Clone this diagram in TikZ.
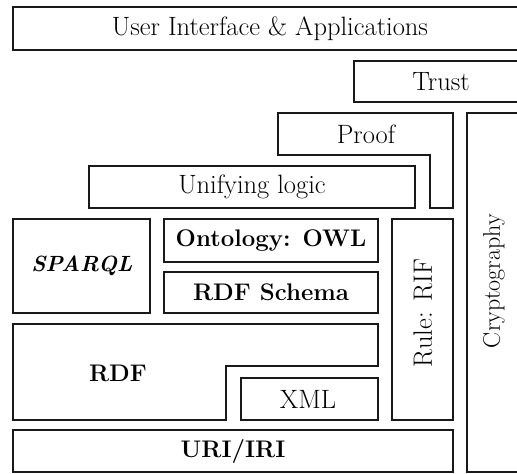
\documentclass[tikz,border=0pt]{standalone}
\usepackage{fontspec}
\setmainfont{Latin Modern Roman}
\begin{document}
\begin{tikzpicture}[x=1pt,y=-1pt,
  thin box/.style={draw=black!90, line width=1.2pt},
  thick box/.style={draw=black!90, line width=2.8pt},
  lbl/.style={font=\fontsize{26.5}{30}\selectfont, inner sep=0pt},
  blbl/.style={font=\fontsize{24}{28}\selectfont\bfseries, inner sep=0pt}]
\useasboundingbox (0,0) rectangle (517,474);
% User interface
\draw[thin box] (517,7) -- (13,7) -- (13,50) -- (517,50);
\node[lbl] (ui) at (270,28.5) {User Interface \& Applications};
% Trust
\draw[thin box] (517,61) -- (354,61) -- (354,102) -- (517,102);
\node[lbl] (trust) at (441,81.5) {Trust};
% Proof
\draw[thin box] (278,113) -- (453,113) -- (453,208) -- (430,208) -- (430,155) -- (278,155) -- cycle;
\node[lbl] (proof) at (366,134) {Proof};
% Unifying logic
\draw[thin box] (89,166) rectangle (415,208);
\node[lbl] (logic) at (252,187) {Unifying logic};
% Cryptography
\draw[thin box] (517,113) -- (467,113) -- (467,472) -- (517,472);
\node[lbl, font=\fontsize{24}{28}\selectfont, rotate=90] (crypto) at (494,281) {Cryptography};
% Rule: RIF
\draw[thin box] (392,219) rectangle (453,420);
\node[lbl, rotate=90] (rif) at (423,313) {Rule: RIF};
% SPARQL
\draw[thick box] (13,219) rectangle (150,313);
\node[blbl, font=\fontsize{22}{26}\selectfont\bfseries\itshape] (sparql) at (82,266) {SPARQL};
% Ontology
\draw[thick box] (164,219) rectangle (378,262);
\node[blbl] (owl) at (271,240.5) {Ontology: OWL};
% RDF Schema
\draw[thick box] (164,272) rectangle (378,313);
\node[blbl] (rdfs) at (271,292.5) {RDF Schema};
% RDF
\draw[thick box] (13,324) -- (378,324) -- (378,366) -- (226,366) -- (226,420) -- (13,420) -- cycle;
\node[blbl] (rdf) at (118,373) {RDF};
% XML
\draw[thin box] (241,378) rectangle (378,420);
\node[lbl] (xml) at (308,399) {XML};
% URI/IRI
\draw[thick box] (13,430) rectangle (453,472);
\node[blbl] (uri) at (233,451) {URI/IRI};
\end{tikzpicture}
\end{document}
